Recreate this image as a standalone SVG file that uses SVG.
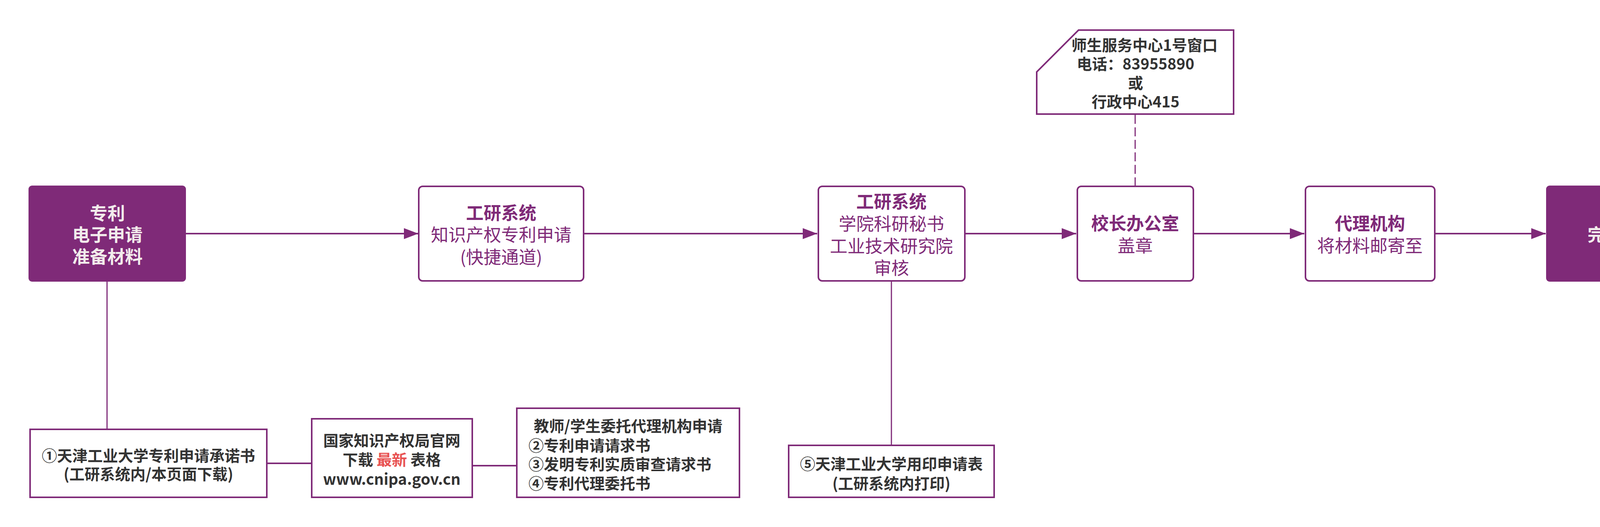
<svg xmlns="http://www.w3.org/2000/svg" width="4334" height="1349" viewBox="0 0 4334 1349">
<style>
text{font-family:"Noto Sans CJK SC","Noto Sans",sans-serif;}
.fill{fill:#7f2a78;}
.box{fill:#ffffff;stroke:#7f2a78;stroke-width:4;}
.sq{fill:#ffffff;stroke:#7f2a78;stroke-width:4;}
.wt{fill:#f2ecec;font-size:45px;font-weight:700;text-anchor:middle;}
.pt{fill:#7f2a78;font-size:45px;text-anchor:middle;}
.pb{font-weight:700;}
.dk{fill:#333333;font-size:39px;font-weight:700;}
.mid{text-anchor:middle;}
.ln{stroke:#7f2a78;stroke-width:4;fill:none;}
.lt{stroke:#7f2a78;stroke-width:3;fill:none;}
</style>
<defs>
<marker id="ah" markerUnits="userSpaceOnUse" markerWidth="40" markerHeight="30" refX="37" refY="14" orient="auto">
<path d="M0,0 L37,14 L0,28 Z" fill="#7f2a78"/>
</marker>
</defs>
<rect width="4334" height="1349" fill="#ffffff"/>
<g id="connectors">
<line class="ln" x1="476" y1="598" x2="1071" y2="598" marker-end="url(#ah)"/>
<line class="ln" x1="1496" y1="598" x2="2092" y2="598" marker-end="url(#ah)"/>
<line class="ln" x1="2472" y1="598" x2="2755" y2="598" marker-end="url(#ah)"/>
<line class="ln" x1="3057" y1="598" x2="3339" y2="598" marker-end="url(#ah)"/>
<line class="ln" x1="3675" y1="598" x2="3957" y2="598" marker-end="url(#ah)"/>
<line class="lt" x1="2906" y1="294" x2="2906" y2="475" stroke-dasharray="23 9"/>
<line class="lt" x1="274" y1="721" x2="274" y2="1097"/>
<line class="lt" x1="2282" y1="721" x2="2282" y2="1138"/>
<line class="ln" x1="685" y1="1186" x2="796" y2="1186"/>
<line class="ln" x1="1211" y1="1192" x2="1321" y2="1192"/>
</g>
<g id="n1">
<rect class="fill" x="73" y="475" width="403" height="246" rx="9"/>
<text class="wt" x="275" y="563">专利</text>
<text class="wt" x="275" y="618">电子申请</text>
<text class="wt" x="275" y="674">准备材料</text>
</g>
<g id="n2">
<rect class="box" x="1072" y="477" width="422" height="242" rx="10"/>
<text class="pt pb" x="1283" y="562">工研系统</text>
<text class="pt" x="1283" y="618">知识产权专利申请</text>
<text class="pt" x="1283" y="675">(快捷通道)</text>
</g>
<g id="n3">
<rect class="box" x="2095" y="477" width="375" height="242" rx="10"/>
<text class="pt pb" x="2282" y="533">工研系统</text>
<text class="pt" x="2282" y="590">学院科研秘书</text>
<text class="pt" x="2282" y="647">工业技术研究院</text>
<text class="pt" x="2282" y="703">审核</text>
</g>
<g id="n4">
<rect class="box" x="2758" y="477" width="297" height="242" rx="10"/>
<text class="pt pb" x="2906" y="589">校长办公室</text>
<text class="pt" x="2906" y="646">盖章</text>
</g>
<g id="n5">
<rect class="box" x="3342" y="477" width="331" height="242" rx="10"/>
<text class="pt pb" x="3507" y="589">代理机构</text>
<text class="pt" x="3507" y="646">将材料邮寄至</text>
</g>
<g id="n6">
<rect class="fill" x="3958" y="475" width="303" height="246" rx="9"/>
<text class="wt" x="4109" y="618">完成</text>
</g>
<g id="note">
<polygon points="2761,77 3158,77 3158,292 2654,292 2654,184" fill="#ffffff" stroke="#7f2a78" stroke-width="4"/>
<text class="dk mid" x="2930" y="130" font-size="40">师生服务中心1号窗口</text>
<text class="dk mid" x="2907" y="178" font-size="40">电话：83955890</text>
<text class="dk mid" x="2907" y="227" font-size="40">或</text>
<text class="dk mid" x="2907" y="275" font-size="40">行政中心415</text>
</g>
<g id="bA">
<rect class="sq" x="77" y="1099" width="606" height="174"/>
<text class="dk mid" x="380" y="1181">①天津工业大学专利申请承诺书</text>
<text class="dk mid" x="380" y="1228">(工研系统内/本页面下载)</text>
</g>
<g id="bB">
<rect class="sq" x="798" y="1072" width="411" height="201"/>
<text class="dk mid" x="1003" y="1142">国家知识产权局官网</text>
<text class="dk mid" x="1003" y="1191">下载 <tspan fill="#e85252">最新</tspan> 表格</text>
<text class="dk mid" x="1003" y="1241">www.cnipa.gov.cn</text>
</g>
<g id="bC">
<rect class="sq" x="1323" y="1045" width="570" height="228"/>
<text class="dk mid" x="1608" y="1105">教师/学生委托代理机构申请</text>
<text class="dk" x="1353" y="1155">②专利申请请求书</text>
<text class="dk" x="1353" y="1203">③发明专利实质审查请求书</text>
<text class="dk" x="1353" y="1252">④专利代理委托书</text>
</g>
<g id="bD">
<rect class="sq" x="2019" y="1140" width="526" height="133"/>
<text class="dk mid" x="2282" y="1202">⑤天津工业大学用印申请表</text>
<text class="dk mid" x="2282" y="1252">(工研系统内打印)</text>
</g>
</svg>
